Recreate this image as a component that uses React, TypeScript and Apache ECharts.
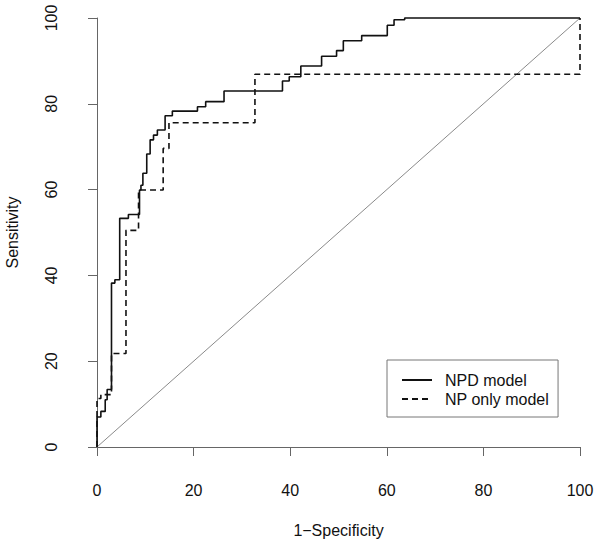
import React, { useEffect, useRef } from "react";
import * as echarts from "echarts";

// ROC points (1-Specificity %, Sensitivity %) – step corners after each vertical jump
const npdX = [0, 0, 0.8, 1.7, 2.1, 3.0, 3.7, 4.7, 6.5, 8.8, 9.1, 9.5, 10.3, 11.0, 11.7, 12.5, 14.1, 15.6, 20.8, 22.5, 26.3, 38.4, 39.8, 42.2, 46.5, 49.6, 51.0, 54.8, 60.1, 61.5, 63.7, 100];
const npdY = [0, 7.0, 8.3, 11.0, 13.4, 38.2, 39.0, 53.3, 54.2, 59.9, 61.0, 63.8, 68.3, 71.6, 72.7, 73.9, 77.2, 78.3, 79.3, 80.5, 83.0, 85.3, 86.3, 88.8, 91.1, 92.4, 94.7, 95.9, 98.3, 99.6, 100, 100];

const npX = [0, 0, 0.8, 3.0, 6.0, 8.6, 13.7, 14.9, 32.7, 100];
const npY = [0, 11.3, 12.2, 21.8, 50.5, 59.9, 69.6, 75.6, 86.9, 100];

const refX = [0, 100];
const refY = [0, 100];

const seriesNames = ["NPD model", "NP only model"];
const xTitle = "1\u2212Specificity";
const yTitle = "Sensitivity";

const FONT = "'Liberation Sans', Arial, Helvetica, sans-serif";
const FS = 16;

const zip = (xs: number[], ys: number[]) => xs.map((x, i) => [x, ys[i]]);

export default function App() {
  const ref = useRef<HTMLDivElement>(null);
  useEffect(() => {
    if (!ref.current) return;
    const chart = echarts.init(ref.current, null, { renderer: "svg" });
    const axisCommon = {
      type: "value" as const,
      min: 0,
      max: 100,
      interval: 20,
      splitLine: { show: false },
      axisLine: { show: true, lineStyle: { color: "#666", width: 1 } },
      axisTick: { show: true, length: 9, lineStyle: { color: "#666", width: 1 } },
      nameLocation: "middle" as const,
      nameTextStyle: { fontSize: FS, color: "#111", fontFamily: FONT },
    };
    chart.setOption({
      animation: false,
      backgroundColor: "#fff",
      grid: { left: 97, right: 20, top: 18, bottom: 100, containLabel: false, outerBoundsMode: "none" },
      xAxis: {
        ...axisCommon,
        offset: 17,
        name: xTitle,
        nameGap: 58,
        axisLabel: { margin: 18, fontSize: FS, color: "#111", fontFamily: FONT },
      },
      yAxis: {
        ...axisCommon,
        offset: 20,
        name: yTitle,
        nameGap: 57,
        axisLabel: { margin: 18, rotate: 90, fontSize: FS, color: "#111", fontFamily: FONT },
      },
      legend: {
        data: seriesNames,
        orient: "vertical",
        left: 387,
        top: 360,
        padding: [12, 9, 10, 14],
        itemWidth: 30,
        itemHeight: 14,
        itemGap: 3,
        borderColor: "#777",
        borderWidth: 1,
        borderRadius: 0,
        itemStyle: { opacity: 0, borderWidth: 0 },
        textStyle: { fontSize: FS, lineHeight: 16, color: "#111", fontFamily: FONT, padding: [0, 0, 0, 8] },
      },
      series: [
        {
          name: "reference",
          type: "line",
          data: zip(refX, refY),
          symbol: "none",
          silent: true,
          clip: false,
          lineStyle: { color: "#8a8a8a", width: 1 },
        },
        {
          name: seriesNames[0],
          type: "line",
          step: "end",
          data: zip(npdX, npdY),
          symbol: "none",
          clip: false,
          itemStyle: { color: "#111" },
          lineStyle: { color: "#111", width: 1.6, type: "solid" },
        },
        {
          name: seriesNames[1],
          type: "line",
          step: "end",
          data: zip(npX, npY),
          symbol: "none",
          clip: false,
          itemStyle: { color: "#111" },
          lineStyle: { color: "#111", width: 1.6, type: [6, 4] },
        },
      ],
    });
    return () => chart.dispose();
  }, []);
  return (
    <div
      ref={ref}
      style={{ position: "fixed", left: 0, top: 0, width: 600, height: 547, background: "#fff" }}
    />
  );
}
